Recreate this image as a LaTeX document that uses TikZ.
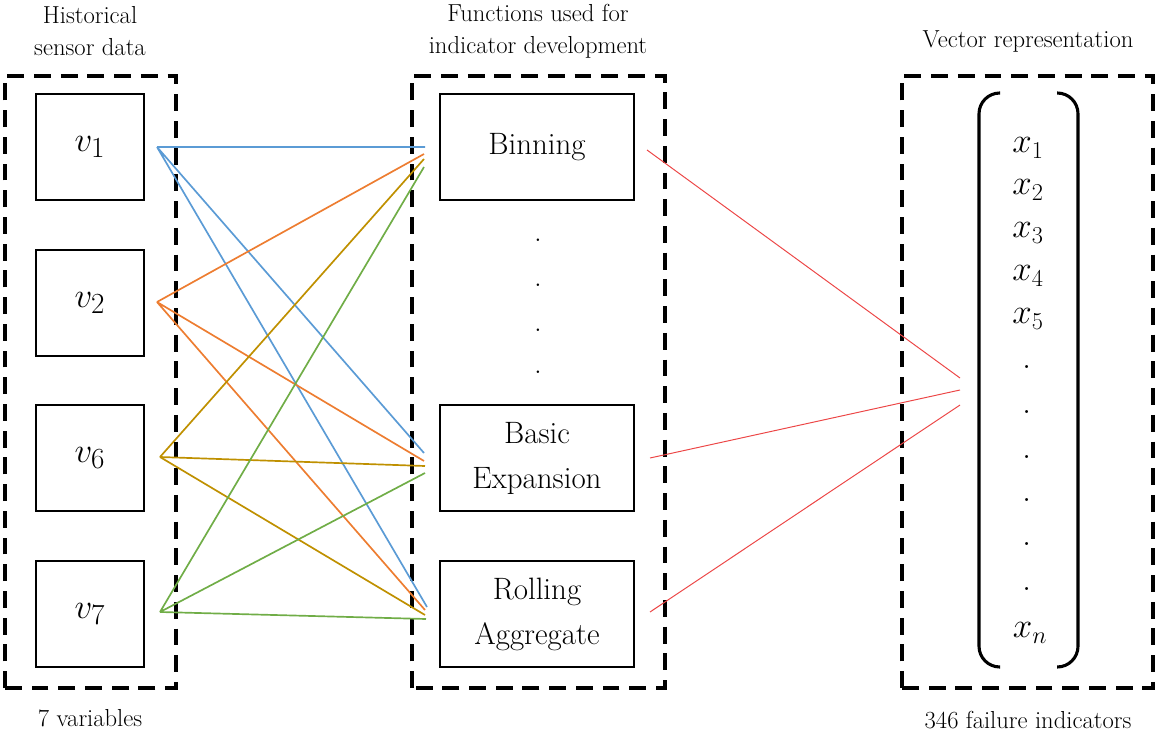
\documentclass[tikz,border=0pt]{standalone}
\usepackage{tikz}
\usetikzlibrary{calc}
\usepackage{amsmath}

\definecolor{lblue}{RGB}{91,155,213}
\definecolor{lorange}{RGB}{237,125,49}
\definecolor{lgold}{RGB}{191,144,0}
\definecolor{lgreen}{RGB}{112,173,71}
\definecolor{lred}{RGB}{236,70,70}

\begin{document}
\begin{tikzpicture}[group/.style={draw,line width=2.8pt,dash pattern=on 12pt off 7pt},
  varbox/.style={draw,line width=1pt,minimum width=2.7cm,minimum height=2.65cm,font=\fontsize{29}{30}\selectfont},
  funbox/.style={draw,line width=1pt,minimum width=4.85cm,minimum height=2.65cm,align=center,font=\fontsize{22}{32}\selectfont},
  headtext/.style={align=center,font=\fontsize{17.5}{22.8}\selectfont},
  entry/.style={font=\fontsize{26}{28}\selectfont},
  link/.style={line width=1.2pt},
  redlink/.style={line width=0.7pt,lred}]
  \useasboundingbox (0,0) rectangle (28.9,18.35);
  % dashed frames
  \draw[group] (0.125,1.15) rectangle (4.4,16.45);
  \draw[group] (10.3,1.15) rectangle (16.625,16.45);
  \draw[group] (22.55,1.15) rectangle (28.83,16.45);
  \path (2.25,17.575) node[headtext] (hvar) {Historical\\sensor data}
  (13.45,17.575) node[headtext] (hfun) {Functions used for\\indicator development}
  (25.7,17.3) node[headtext] (hvec) {Vector representation}
  (2.25,0.4) node[headtext] (nvar) {7 variables}
  (25.7,0.35) node[headtext] (nvec) {346 failure indicators};
  % variables
  \path (2.25,14.675) node[varbox] (v1) {$v_1$} (2.25,10.775) node[varbox] (v2) {$v_2$}
  (2.25,6.9) node[varbox] (v6) {$v_6$} (2.25,3.0) node[varbox] (v7) {$v_7$};
  % functions
  \path (13.425,14.675) node[funbox] (bin) {Binning}
  (13.425,6.9) node[funbox] (bexp) {Basic\\Expansion}
  (13.425,3.0) node[funbox] (ragg) {Rolling\\Aggregate};
  \path (13.45,12.35) node[funbox,draw=none,minimum width=0pt,minimum height=0pt,inner sep=0pt] (d1) {.}
  (13.45,11.225) node[funbox,draw=none,minimum width=0pt,minimum height=0pt,inner sep=0pt] (d2) {.}
  (13.45,10.1) node[funbox,draw=none,minimum width=0pt,minimum height=0pt,inner sep=0pt] (d3) {.}
  (13.45,9.05) node[funbox,draw=none,minimum width=0pt,minimum height=0pt,inner sep=0pt] (d4) {.};
  % vector
  \draw[line width=2.2pt,rounded corners=0.52cm] (25.0,16.025) -- (24.475,16.025) -- (24.475,1.675) -- (25.0,1.675);
  \draw[line width=2.2pt,rounded corners=0.52cm] (26.425,16.025) -- (26.95,16.025) -- (26.95,1.675) -- (26.425,1.675);
  \path (25.7,14.65) node[entry] (x1) {$x_1$} (25.7,13.6) node[entry] (x2) {$x_2$}
  (25.7,12.525) node[entry] (x3) {$x_3$} (25.7,11.45) node[entry] (x4) {$x_4$}
  (25.7,10.375) node[entry] (x5) {$x_5$}
  (25.68,9.175) node[entry,inner sep=0pt] (e1) {.} (25.68,8.05) node[entry,inner sep=0pt] (e2) {.}
  (25.68,6.925) node[entry,inner sep=0pt] (e3) {.} (25.68,5.85) node[entry,inner sep=0pt] (e4) {.}
  (25.68,4.75) node[entry,inner sep=0pt] (e5) {.} (25.68,3.625) node[entry,inner sep=0pt] (e6) {.}
  (25.75,2.525) node[entry] (xn) {$x_n$};
  % link ends
  \coordinate (s1) at (3.925,14.675); \coordinate (s2) at (3.925,10.8);
  \coordinate (s6) at (4.0,6.925); \coordinate (s7) at (4.0,3.05);
  \coordinate (b1) at (10.625,14.675); \coordinate (b2) at (10.6,14.5);
  \coordinate (b3) at (10.6,14.375); \coordinate (b4) at (10.6,14.175);
  \coordinate (x1a) at (10.6,7.025); \coordinate (x2a) at (10.6,6.825);
  \coordinate (x3a) at (10.625,6.7); \coordinate (x4a) at (10.625,6.525);
  \coordinate (r1) at (10.675,3.175); \coordinate (r2) at (10.625,3.1);
  \coordinate (r3) at (10.625,2.975); \coordinate (r4) at (10.65,2.875);
  \coordinate (p1) at (16.175,14.6); \coordinate (p2) at (16.25,6.9); \coordinate (p3) at (16.25,3.05);
  \coordinate (q1) at (24.0,8.9); \coordinate (q2) at (24.0,8.6); \coordinate (q3) at (24.0,8.225);
  \draw[link,lblue] (s1) -- (b1) (s1) -- (x1a) (s1) -- (r1);
  \draw[link,lorange] (s2) -- (b2) (s2) -- (x2a) (s2) -- (r2);
  \draw[link,lgold] (s6) -- (b3) (s6) -- (x3a) (s6) -- (r3);
  \draw[link,lgreen] (s7) -- (b4) (s7) -- (x4a) (s7) -- (r4);
  \draw[redlink] (p1) -- (q1) (p2) -- (q2) (p3) -- (q3);
\end{tikzpicture}
\end{document}
